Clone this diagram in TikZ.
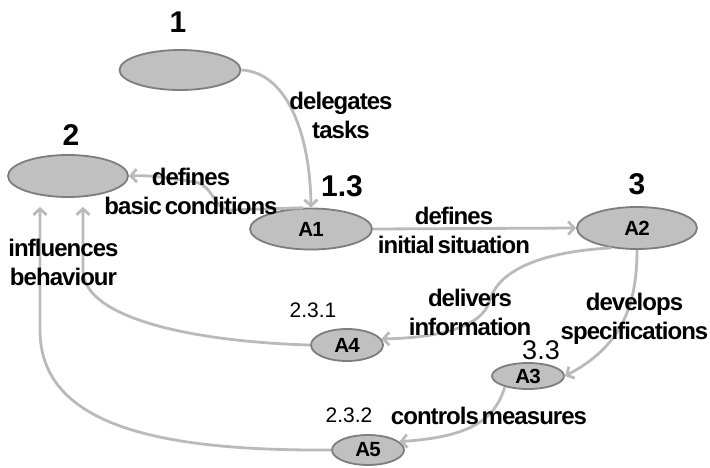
\documentclass[tikz,border=0pt]{standalone}
\usepackage{fontspec}
\setmainfont{Liberation Sans}
\newfontfamily\tightbold[LetterSpace=-4,WordSpace=0.5]{Liberation Sans Bold}
\usetikzlibrary{shapes.geometric,arrows.meta,calc}
\definecolor{blobfill}{RGB}{192,192,192}
\definecolor{blobline}{RGB}{125,125,125}
\definecolor{linkgray}{RGB}{186,186,186}
\begin{document}
\begin{tikzpicture}[x=1pt,y=-1pt,
  entity/.style={ellipse, draw=blobline, fill=blobfill, line width=1.8pt,
    inner sep=0pt, font=\fontsize{20.5}{20.5}\selectfont\tightbold},
  link/.style={draw=linkgray, line width=2.8pt,
    -{Straight Barb[length=6pt,width=13pt]}},
  rel/.style={font=\fontsize{24}{29}\selectfont\tightbold, align=center, inner sep=0pt},
  idbig/.style={font=\fontsize{30}{30}\selectfont\bfseries, inner sep=0pt},
  idmid/.style={font=\fontsize{27}{27}\selectfont, inner sep=0pt},
  idsmall/.style={font=\fontsize{21}{21}\selectfont, inner sep=0pt}]
\useasboundingbox (0,0) rectangle (710,467);

% actors and activities
\node[entity, minimum width=121pt, minimum height=40pt] (n1) at (180,70) {};
\node[entity, minimum width=120pt, minimum height=42pt] (n2) at (68,176) {};
\node[entity, minimum width=122pt, minimum height=41pt] (a1) at (311,229) {A1};
\node[entity, minimum width=120pt, minimum height=42pt] (a2) at (637,228) {A2};
\node[entity, minimum width=72pt, minimum height=32pt] (a4) at (347,345) {A4};
\node[entity, minimum width=72pt, minimum height=26pt] (a3) at (528,376) {A3};
\node[entity, minimum width=72pt, minimum height=30pt] (a5) at (368,450) {A5};

% relations
\draw[link] (n1.east) .. controls (285,72) and (310,130) .. (a1.north);
\draw[link] (a1.110) -- (230,210) .. controls (214,210) and (214,186) .. (195,182)
  .. controls (170,178) and (150,175) .. (n2.east);
\draw[link] (a1.east) -- (a2.west);
\draw[link] (a2.218) .. controls (552,251) and (500,266) .. (490,300)
  .. controls (482,330) and (430,338) .. (a4.10);
\draw[link] (a2.south) .. controls (637,300) and (625,345) .. (a3.east);
\draw[link] (a3.205) .. controls (495,420) and (470,437) .. (a5.15);
\draw[link] (a4.west) .. controls (200,342) and (83,320) .. (83,270)
  -- ($(n2.south)+(15,9)$);
\draw[link] (a5.west) .. controls (165,451) and (40,428) .. (40,330)
  -- ($(n2.south)+(-28,9)$);

% identifiers
\node[idbig] (t1) at (178,22.5) {1};
\node[idbig] (t2) at (71,135.5) {2};
\node[idbig] (t13) at (342,186) {1.3};
\node[idbig] (t3) at (637,184) {3};
\node[idmid] (t33) at (541,350) {3.3};
\node[idsmall] (t231) at (313,310.5) {2.3.1};
\node[idsmall] (t232) at (349,415.5) {2.3.2};

% relation labels
\node[rel] (l1) at (341,115.5) {delegates\\tasks};
\node[rel] (l2) at (191,191.5) {defines\\basic conditions};
\node[rel] (l3) at (454,230) {defines\\initial situation};
\node[rel] (l4) at (63.5,262.5) {influences\\behaviour};
\node[rel] (l5) at (470,312.5) {delivers\\information};
\node[rel] (l6) at (634.5,318.5) {develops\\specifications};
\node[rel] (l7) at (489,415.5) {controls measures};
\end{tikzpicture}
\end{document}
